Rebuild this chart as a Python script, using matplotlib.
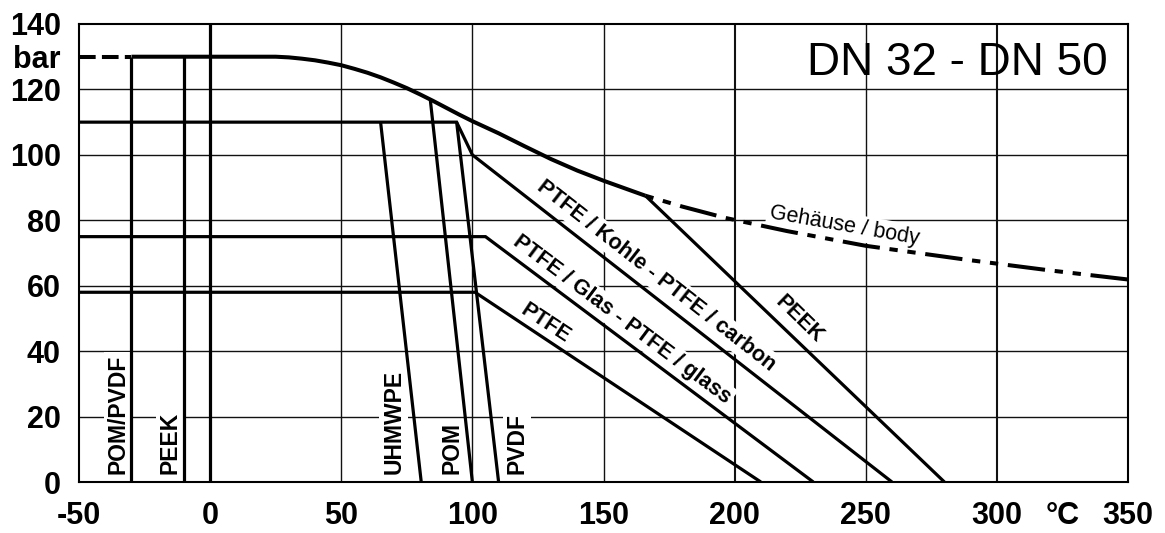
import matplotlib
matplotlib.use('Agg')
import matplotlib.pyplot as plt

# Gehäuse / body limit
body_x = [-30, 25, 30, 35, 40, 45, 50, 55, 60, 65, 70, 75, 80, 85, 90, 95, 100,
          110, 120, 130, 140, 150, 158, 166]
body_y = [130, 130, 129.8, 129.4, 128.9, 128.2, 127.4, 126.3, 125.1, 123.7, 122.1,
          120.4, 118.5, 116.5, 114.4, 112.3, 110.3, 106.6, 102.6, 98.7, 95.2, 92.1,
          89.8, 87.5]
body_ext_x = [166, 180, 196.6, 220, 250, 288.8, 320, 350]
body_ext_y = [87.5, 84.2, 80.7, 76.7, 72.2, 67.9, 64.7, 61.9]
body_left_x = [-50, -30]
body_left_y = [130, 130]

# seal / material lines
kohle_x = [-50, 94, 100, 260]
kohle_y = [110, 110, 100, 0]
pvdf_x = [94, 110]
pvdf_y = [110, 0]
pom_x = [84, 100]
pom_y = [116.5, 0]
uhmwpe_x = [65, 80.5]
uhmwpe_y = [110, 0]
glas_x = [-50, 105, 230]
glas_y = [75, 75, 0]
ptfe_x = [-50, 101, 210]
ptfe_y = [58, 58, 0]
peek_x = [166, 280]
peek_y = [87.5, 0]
pom_pvdf_x = [-30, -30]
pom_pvdf_y = [0, 130]
peek_v_x = [-10, -10]
peek_v_y = [0, 130]
zero_x = [0, 0]
zero_y = [0, 140]

xticks = [-50, 0, 50, 100, 150, 200, 250, 300, 325, 350]
xlabels = ['-50', '0', '50', '100', '150', '200', '250', '300', '°C', '350']
yticks = [0, 20, 40, 60, 80, 100, 120, 130, 140]
ylabels = ['0', '20', '40', '60', '80', '100', '120', 'bar', '140']

plt.rcParams['font.family'] = ['Liberation Sans', 'DejaVu Sans']
plt.rcParams['lines.scale_dashes'] = False

fig = plt.figure(figsize=(11.65, 5.33), dpi=100)
ax = fig.add_axes([79/1165, 1-482/533, (1128-79)/1165, (482-24)/533])
ax.set_xlim(-50, 350)
ax.set_ylim(0, 140)

# grid
for gx in [50, 100, 150, 200, 250, 300]:
    ax.axvline(gx, color='#111111', lw=1.5 if gx in (200, 300) else 1.0, zorder=1)
for gy in [20, 40, 60, 80, 100, 120]:
    ax.axhline(gy, color='#111111', lw=1.0, zorder=1)

lw = 2.3
kw = dict(color='black', lw=lw, zorder=3, solid_capstyle='butt', solid_joinstyle='miter')
ax.plot(body_x, body_y, color='black', lw=2.9, zorder=3, solid_capstyle='butt')
ax.plot(body_ext_x, body_ext_y, color='black', lw=2.9, zorder=3,
        dashes=(6, 7, 6, 7, 27, 7), dash_capstyle='butt')
ax.plot(body_left_x, body_left_y, color='black', lw=2.9, zorder=3,
        dashes=(12, 4.5), dash_capstyle='butt')
for xs, ys in [(kohle_x, kohle_y), (pvdf_x, pvdf_y), (pom_x, pom_y),
               (uhmwpe_x, uhmwpe_y), (glas_x, glas_y), (ptfe_x, ptfe_y),
               (peek_x, peek_y), (pom_pvdf_x, pom_pvdf_y), (peek_v_x, peek_v_y),
               (zero_x, zero_y)]:
    ax.plot(xs, ys, **kw)

box = dict(boxstyle='square,pad=0.12', fc='white', ec='none')

# vertical labels
for tx, txt in [(-35, 'POM/PVDF'), (-15.3, 'PEEK'), (70, 'UHMWPE'),
                (92.2, 'POM'), (117, 'PVDF')]:
    ax.text(tx, 2.3, txt, rotation=90, ha='center', va='bottom', fontsize=16.5,
            fontweight='bold', bbox=box, zorder=2)

# diagonal labels
dk = dict(rotation_mode='anchor', ha='center', va='center', fontsize=15.5,
          fontweight='bold', bbox=box, zorder=2)
ax.text(170, 63, 'PTFE / Kohle - PTFE / carbon', rotation=-38, **dk)
ax.text(157, 49.6, 'PTFE / Glas - PTFE / glass', rotation=-36.9, **dk)
ax.text(128, 48.5, 'PTFE', rotation=-33.4, **dk)
ax.text(224.8, 49.6, 'PEEK', rotation=-44.2, **dk)
ax.text(241.8, 78.3, 'Gehäuse / body', rotation=-10, rotation_mode='anchor',
        ha='center', va='center', fontsize=15.5, bbox=box, zorder=2)

ax.text(342.4, 124.4, 'DN 32 - DN 50', ha='right', va='baseline', fontsize=33, zorder=2)

ax.set_xticks(xticks)
ax.set_xticklabels(xlabels, fontsize=22, fontweight='bold')
ax.set_yticks(yticks)
ax.set_yticklabels(ylabels, fontsize=22, fontweight='bold')
ax.tick_params(axis='x', length=0, pad=14)
ax.tick_params(axis='y', length=0, pad=13)
for s in ax.spines.values():
    s.set_linewidth(1.5)
    s.set_zorder(4)

fig.savefig('out.png', dpi=100)
